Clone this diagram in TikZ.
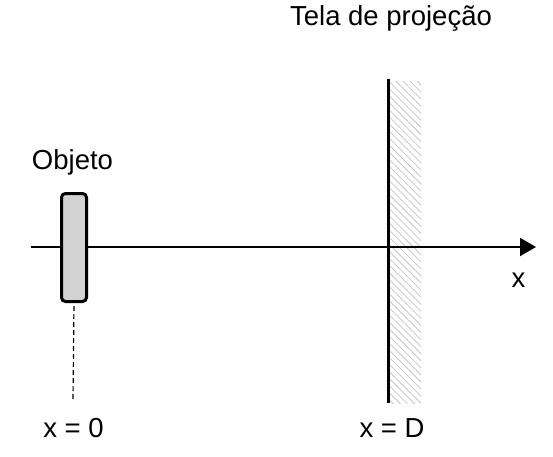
\documentclass[tikz,border=0pt]{standalone}
\usepackage{fontspec}
\setmainfont{Liberation Sans}
\usetikzlibrary{arrows.meta,patterns.meta}
\begin{document}
\begin{tikzpicture}[x=1pt,y=1pt]
	\tikzstyle{every node}+=[inner sep=0pt, font=\fontsize{27.5}{32}\selectfont]
	\useasboundingbox (0,0) rectangle (553,456);
	\fill [pattern={Lines[angle=-45,distance=5pt,line width=0.8pt]}, pattern color=gray!45] (390,53) rectangle (421,374);
	\coordinate (scrtop) at (388.5,377);
	\coordinate (scrbot) at (388.5,53);
	\draw [black, line width=3.5pt] (scrtop) -- (scrbot);
	\coordinate (axstart) at (30.5,209);
	\coordinate (axend) at (536,209);
	\draw [black, line width=2pt, -{Triangle[length=16pt,width=18pt]}] (axstart) -- (axend);
	\node (obj) [draw, line width=3pt, fill=gray!35, rounded corners=4pt, minimum width=25pt, minimum height=108pt] at (74,208.5) {};
	\coordinate (objfoot) at (73,56);
	\draw [black, line width=1.2pt, dash pattern=on 5pt off 3pt, shorten <=3pt] (obj.south) -- (objfoot);
	\node (objlabel) [anchor=base] at (72.5,287) {Objeto};
	\node (scrlabel) [anchor=base] at (391,430) {Tela de projeção};
	\node (xlabel) at (518.5,176) {x};
	\node (zerolabel) [anchor=base] at (73.5,19) {x = 0};
	\node (dlabel) [anchor=base] at (392,19) {x = D};
\end{tikzpicture}
\end{document}
